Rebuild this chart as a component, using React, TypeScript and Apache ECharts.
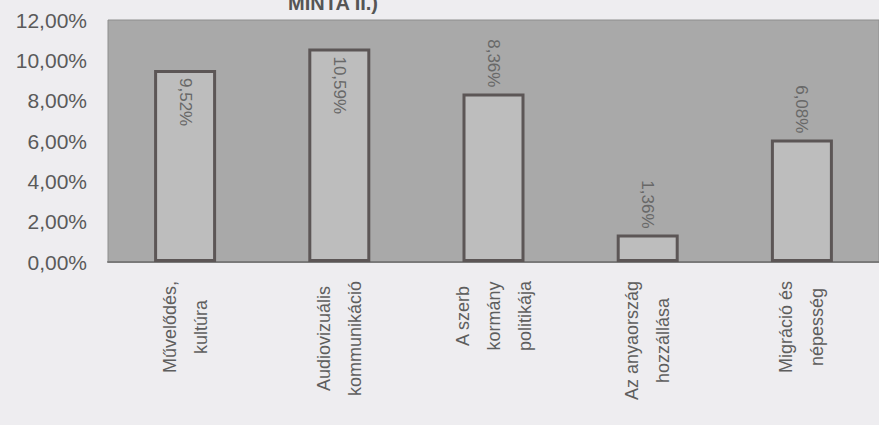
import React, { useEffect, useRef } from "react";
import * as echarts from "echarts";

const categories: string[][] = [
  ["Művelődés,", "kultúra"],
  ["Audiovizuális", "kommunikáció"],
  ["A szerb", "kormány", "politikája"],
  ["Az anyaország", "hozzállása"],
  ["Migráció és", "népesség"],
];
const values: number[] = [9.52, 10.59, 8.36, 1.36, 6.08];
const labelInside: boolean[] = [true, true, false, false, false];
const yTicks = { min: 0, max: 12, interval: 2 };
const titleText = "MINTA II.)";

const fmt = (v: number) => v.toFixed(2).replace(".", ",") + "%";

export default function App() {
  const ref = useRef<HTMLDivElement>(null);
  useEffect(() => {
    if (!ref.current) return;
    const chart = echarts.init(ref.current, undefined, { renderer: "svg" });
    const font = "'Liberation Sans', Arial, sans-serif";
    chart.setOption({
      animation: false,
      backgroundColor: "#eeedf0",
      textStyle: { fontFamily: font },
      graphic: [
        {
          type: "text",
          left: 288,
          top: -7,
          style: {
            text: titleText,
            font: `bold 20px ${font}`,
            fill: "#555",
          },
        },
      ],
      grid: {
        left: 108,
        top: 20,
        bottom: 163,
        right: -5,
        show: true,
        backgroundColor: "#a9a9a9",
        borderColor: "#8e8e8e",
        borderWidth: 1,
      },
      xAxis: {
        type: "category",
        data: categories.map((c) => c.join("\n")),
        axisLine: { show: true, lineStyle: { color: "#7a7a7a", width: 2 } },
        axisTick: { show: false },
        axisLabel: {
          rotate: 90,
          interval: 0,
          margin: 19,
          color: "#5e5e5e",
          formatter: (v: string) =>
            v
              .split("\n")
              .map((l) => `{c|${l}}`)
              .join("\n"),
          rich: {
            c: {
              align: "center",
              fontSize: 18,
              lineHeight: 31,
              color: "#5e5e5e",
              fontFamily: font,
            },
          },
        },
      },
      yAxis: {
        type: "value",
        min: yTicks.min,
        max: yTicks.max,
        interval: yTicks.interval,
        splitLine: { show: false },
        axisLine: { show: false },
        axisTick: { show: false },
        axisLabel: {
          margin: 21,
          fontSize: 21,
          color: "#5a5a5a",
          formatter: (v: number) => fmt(v),
        },
      },
      series: [
        {
          type: "bar",
          barWidth: 62,
          data: values.map((v, i) => ({
            value: v,
            label: labelInside[i]
              ? {
                  show: true,
                  position: "insideTop",
                  distance: 8,
                  rotate: -90,
                  align: "left",
                  verticalAlign: "middle",
                }
              : {
                  show: true,
                  position: "top",
                  distance: 6,
                  rotate: -90,
                  align: "right",
                  verticalAlign: "middle",
                },
          })),
          itemStyle: {
            color: "#bdbdbd",
            borderColor: "#5c5656",
            borderWidth: 3,
          },
          label: {
            fontSize: 17,
            color: "#686868",
            fontFamily: font,
            formatter: (p: any) => fmt(p.value),
          },
        },
      ],
    });
    return () => chart.dispose();
  }, []);
  return (
    <div
      ref={ref}
      style={{ position: "fixed", left: 0, top: 0, width: 879, height: 425 }}
    />
  );
}
